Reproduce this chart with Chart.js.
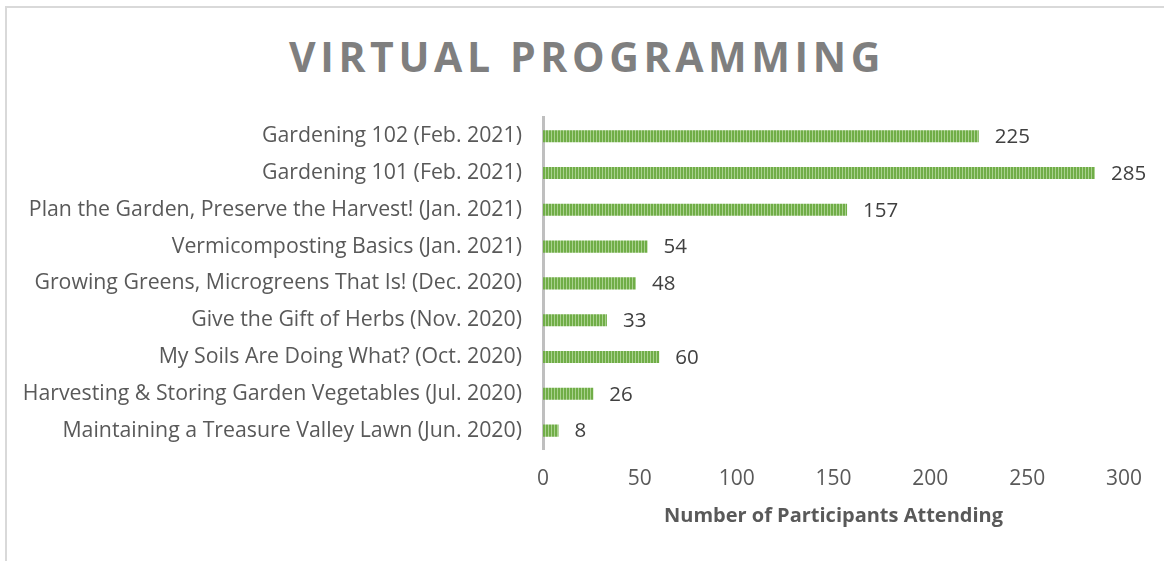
<!DOCTYPE html>
<html>
<head>
<meta charset="utf-8">
<script src="https://cdn.jsdelivr.net/npm/chart.js@4.4.0/dist/chart.umd.min.js"></script>
<style>
  html, body { margin: 0; padding: 0; background: #fff; }
  body { width: 1164px; height: 561px; position: relative; overflow: hidden; }
  #frame { position: absolute; left: 5px; top: 6px; width: 1300px; height: 700px; border-left: 2px solid #d9d9d9; border-top: 2px solid #d9d9d9; box-sizing: border-box; }
  #title { position: absolute; left: 0; width: 1174px; top: 28px; text-align: center; font-family: "Open Sans", sans-serif; font-weight: 700; font-size: 41px; letter-spacing: 4.6px; color: #7f7f7f; line-height: 56px; }
  #wrap { position: absolute; left: 0; top: 0; width: 1164px; height: 561px; }
</style>
</head>
<body>
<div id="frame"></div>
<div id="title">VIRTUAL PROGRAMMING</div>
<div id="wrap"><canvas id="c" width="1164" height="561"></canvas></div>
<script>
const categories = [
  "Gardening 102 (Feb. 2021)",
  "Gardening 101 (Feb. 2021)",
  "Plan the Garden, Preserve the Harvest! (Jan. 2021)",
  "Vermicomposting Basics (Jan. 2021)",
  "Growing Greens, Microgreens That Is! (Dec. 2020)",
  "Give the Gift of Herbs (Nov. 2020)",
  "My Soils Are Doing What? (Oct. 2020)",
  "Harvesting & Storing Garden Vegetables (Jul. 2020)",
  "Maintaining a Treasure Valley Lawn (Jun. 2020)"
];
const participants = [225, 285, 157, 54, 48, 33, 60, 26, 8];
const xTicks = [0, 50, 100, 150, 200, 250, 300];
const xAxisTitle = "Number of Participants Attending";

// striped pattern for bars
const pc = document.createElement('canvas');
pc.width = 3; pc.height = 4;
const pctx = pc.getContext('2d');
pctx.fillStyle = '#70ad47'; pctx.fillRect(0, 0, 2, 4);
pctx.fillStyle = '#a9d18e'; pctx.fillRect(2, 0, 1, 4);
const ctx = document.getElementById('c').getContext('2d');
const stripe = ctx.createPattern(pc, 'repeat');

const valueLabels = {
  id: 'valueLabels',
  afterDatasetsDraw(chart) {
    const c = chart.ctx;
    const meta = chart.getDatasetMeta(0);
    const xs = chart.scales.x;
    c.save();
    c.font = '20.5px "Open Sans", sans-serif';
    c.fillStyle = '#404040';
    c.textAlign = 'left';
    c.textBaseline = 'middle';
    meta.data.forEach((bar, i) => {
      const v = chart.data.datasets[0].data[i];
      c.fillText(String(v), xs.getPixelForValue(v) + 16, bar.y + 1);
    });
    c.restore();
  }
};

new Chart(ctx, {
  type: 'bar',
  data: {
    labels: categories,
    datasets: [{
      data: participants,
      backgroundColor: stripe,
      borderWidth: 0,
      barPercentage: 0.33,
      categoryPercentage: 1.0
    }]
  },
  options: {
    indexAxis: 'y',
    responsive: false,
    animation: false,
    layout: { padding: { top: 117.8, right: 40, left: 0, bottom: 0 } },
    plugins: { legend: { display: false }, tooltip: { enabled: false } },
    scales: {
      y: {
        grid: { display: false, drawTicks: false },
        border: { display: true, color: '#bfbfbf', width: 3 },
        ticks: { color: '#595959', font: { family: '"Open Sans", sans-serif', size: 21.3 }, padding: 21 },
        afterFit(scale) { scale.width = 543; }
      },
      x: {
        min: 0, max: 300,
        afterBuildTicks(scale) { scale.ticks = xTicks.map(v => ({ value: v })); },
        grid: { display: false, drawTicks: false },
        border: { display: false },
        ticks: { color: '#595959', font: { family: '"Open Sans", sans-serif', size: 21 }, padding: 17 },
        title: { display: true, text: xAxisTitle, color: '#595959', font: { family: '"Open Sans", sans-serif', size: 20, weight: 'bold' }, padding: { top: 0, bottom: 33 } },
        afterFit(scale) { scale.height = 112.0; }
      }
    }
  },
  plugins: [valueLabels]
});
</script>
</body>
</html>
